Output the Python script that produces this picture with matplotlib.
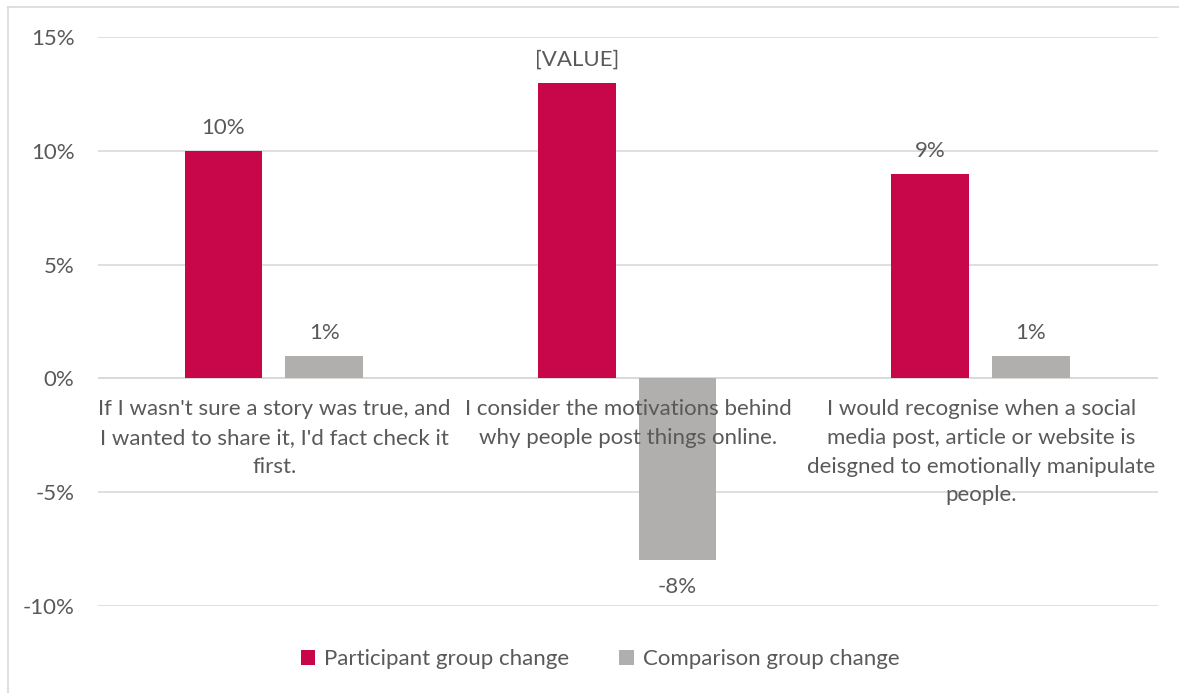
import matplotlib.pyplot as plt
import numpy as np
from matplotlib.lines import Line2D

# data
categories = [
    "If I wasn't sure a story was true, and\nI wanted to share it, I'd fact check it\nfirst.",
    "I consider the motivations behind\nwhy people post things online.",
    "I would recognise when a social\nmedia post, article or website is\ndeisgned to emotionally manipulate\npeople.",
]
participant = [10, 13, 9]
comparison = [1, -8, 1]
participant_labels = ["10%", "[VALUE]", "9%"]
comparison_labels = ["1%", "-8%", "1%"]
series_names = ["Participant group change", "Comparison group change"]
yticks = [-10, -5, 0, 5, 10, 15]

plt.rcParams['font.family'] = ['Lato', 'DejaVu Sans']
text_col = '#595959'
red = '#C8074B'
grey = '#B0AFAE'
fs = 16

fig = plt.figure(figsize=(11.79, 6.93), dpi=100)
ax = fig.add_axes([98 / 1179, 1 - 606 / 693, 1060 / 1179, 569 / 693])

x = np.arange(len(categories))
w = 0.22
b1 = ax.bar(x - 0.145, participant, w, color=red, label=series_names[0], zorder=3)
b2 = ax.bar(x + 0.14, comparison, w, color=grey, label=series_names[1], zorder=3)

# value labels
for rect, v, lab in zip(b1, participant, participant_labels):
    ax.annotate(lab, (rect.get_x() + rect.get_width() / 2, v), xytext=(0, 9),
                textcoords='offset points', ha='center', va='bottom',
                fontsize=fs, color=text_col)
for rect, v, lab in zip(b2, comparison, comparison_labels):
    off = 9 if v >= 0 else -12
    ax.annotate(lab, (rect.get_x() + rect.get_width() / 2, v), xytext=(0, off),
                textcoords='offset points', ha='center',
                va='bottom' if v >= 0 else 'top',
                fontsize=fs, color=text_col)

# category labels under the zero line
for i, c in enumerate(categories):
    ax.annotate(c, (i, 0), xytext=(0, -15), textcoords='offset points',
                ha='center', va='top', fontsize=fs, color=text_col,
                linespacing=1.54)

ax.set_xlim(-0.5, 2.5)
ax.set_ylim(-10, 15)
ax.set_yticks(yticks)
ax.set_yticklabels([f"{t}%" for t in yticks], fontsize=fs, color=text_col)
ax.set_xticks([])
ax.tick_params(axis='y', length=0, pad=17)
ax.yaxis.grid(True, color='#D9D9D9', linewidth=1.2, zorder=0)
ax.axhline(0, color='#D9D9D9', linewidth=1.2, zorder=2)
for s in ax.spines.values():
    s.set_visible(False)

fig.legend(handles=[b1, b2], loc='center', bbox_to_anchor=(600 / 1179, 1 - 659 / 693),
           ncol=2, frameon=False, fontsize=fs, labelcolor=text_col,
           handlelength=0.65, handleheight=0.65, handletextpad=0.4, columnspacing=2.25)

# chart-area frame: top and left edges
fig.add_artist(Line2D([8 / 1179, 1], [1 - 7 / 693, 1 - 7 / 693],
                      transform=fig.transFigure, color='#D9D9D9', linewidth=1.2))
fig.add_artist(Line2D([8 / 1179, 8 / 1179], [0, 1 - 7 / 693],
                      transform=fig.transFigure, color='#D9D9D9', linewidth=1.2))

fig.savefig('out.png', dpi=100)
